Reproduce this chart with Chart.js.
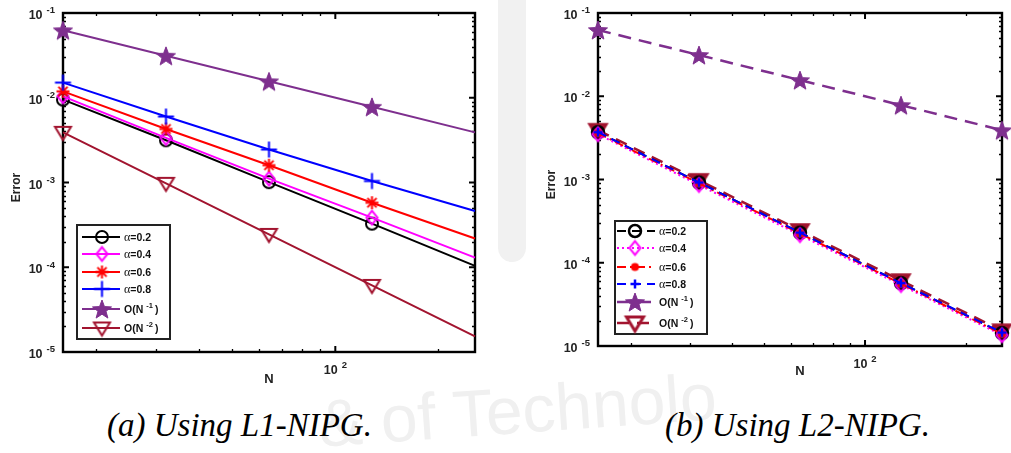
<!DOCTYPE html>
<html>
<head>
<meta charset="utf-8">
<script src="https://cdn.jsdelivr.net/npm/chart.js@4.4.0/dist/chart.umd.min.js"></script>
<style>
  body { margin: 0; background: #fff; width: 1011px; height: 453px; overflow: hidden; position: relative; }
  canvas { position: absolute; top: 0; }
  #plotA { left: 0; }
  #plotB { left: 505px; }
  .band { position: absolute; left: 498px; top: 0; width: 28px; height: 262px; background: #f1f1f1; border-radius: 0 0 14px 14px; }
  .wm { position: absolute; left: 318px; top: 372px; font: 66px "Liberation Sans", sans-serif; color: #f0f0f0; transform: rotate(-4deg); white-space: nowrap; }
  .cap { position: absolute; top: 407px; font: italic 33px "Liberation Serif", serif; color: #000; white-space: nowrap; }
</style>
</head>
<body>
<div class="band"></div>
<div class="wm">&amp;  of Technolo</div>
<canvas id="plotA" width="505" height="400"></canvas>
<canvas id="plotB" width="506" height="400"></canvas>
<div class="cap" style="left:107px">(a) Using L1-NIPG.</div>
<div class="cap" style="left:665px">(b) Using L2-NIPG.</div>
<script>
// ---- data ----
const nValues = [16, 32, 64, 128, 256];
const seriesLabels = ['α=0.2', 'α=0.4', 'α=0.6', 'α=0.8', 'O(N^-1)', 'O(N^-2)'];
const yTickExps = [-1, -2, -3, -4, -5];

// (a) L1-NIPG
const l1Alpha02 = [0.0095, 0.00315, 0.00101, 0.000327, 0.000104];
const l1Alpha04 = [0.0104, 0.00336, 0.00111, 0.000385, 0.00013];
const l1Alpha06 = [0.0119, 0.00428, 0.0016, 0.000577, 0.000218];
const l1Alpha08 = [0.0151, 0.0060, 0.00245, 0.00104, 0.00046];
const l1RateN1 = [0.0625, 0.03125, 0.015625, 0.0078125, 0.00390625];
const l1RateN2 = [0.00390625, 0.00097656, 0.00024414, 0.000061035, 0.000015259];

// (b) L2-NIPG
const l2Alpha02 = [0.0037, 0.00092, 0.00023, 0.000057, 0.0000143];
const l2Alpha04 = [0.0035, 0.00086, 0.000215, 0.000054, 0.0000135];
const l2Alpha06 = [0.0036, 0.0009, 0.000225, 0.000056, 0.000014];
const l2Alpha08 = [0.0037, 0.00092, 0.00023, 0.000057, 0.0000145];
const l2RateN1 = [0.0625, 0.03125, 0.015625, 0.0078125, 0.00390625];
const l2RateN2 = [0.00390625, 0.00097656, 0.00024414, 0.000061035, 0.000015259];

const PURPLE = '#7E2F8E';
const DARKRED = '#A2142F';

// small canvases used as point styles (MATLAB-like markers)
function marker(kind, size, color, lw, filled) {
  const pad = Math.ceil(lw) + 2;
  const s = Math.ceil(size * 1.3) + pad * 2;
  const c = document.createElement('canvas');
  c.width = s; c.height = s;
  const g = c.getContext('2d');
  const m = s / 2, r = size / 2;
  g.strokeStyle = color; g.fillStyle = color; g.lineWidth = lw;
  g.beginPath();
  if (kind === 'circle' || kind === 'dot') {
    g.arc(m, m, r, 0, Math.PI * 2);
  } else if (kind === 'diamond') {
    g.moveTo(m, m - r * 1.25); g.lineTo(m + r, m); g.lineTo(m, m + r * 1.25); g.lineTo(m - r, m); g.closePath();
  } else if (kind === 'tridown') {
    g.moveTo(m - r, m - r * 0.7); g.lineTo(m + r, m - r * 0.7); g.lineTo(m, m + r * 0.95); g.closePath();
  } else if (kind === 'star') {
    for (let i = 0; i < 10; i++) {
      const rad = i % 2 ? r * 0.42 : r;
      const ang = -Math.PI / 2 + i * Math.PI / 5;
      const px = m + rad * Math.cos(ang), py = m + 1 + rad * Math.sin(ang);
      if (i) g.lineTo(px, py); else g.moveTo(px, py);
    }
    g.closePath();
  } else if (kind === 'plus') {
    g.moveTo(m - r, m); g.lineTo(m + r, m); g.moveTo(m, m - r); g.lineTo(m, m + r);
  } else if (kind === 'asterisk') {
    for (let i = 0; i < 4; i++) {
      const ang = i * Math.PI / 4;
      g.moveTo(m - r * Math.cos(ang), m - r * Math.sin(ang));
      g.lineTo(m + r * Math.cos(ang), m + r * Math.sin(ang));
    }
  }
  if (filled) g.fill();
  if (kind !== 'dot') { g.lineJoin = 'miter'; g.stroke(); }
  return c;
}

function pts(vals) { return nValues.map((n, i) => ({ x: n, y: vals[i] })); }

function ds(label, vals, color, pointImg, legendImg, dash, order, lw, radii) {
  return {
    label, data: pts(vals), borderColor: color, backgroundColor: color,
    borderWidth: lw || 2, borderDash: dash || [], pointStyle: pointImg,
    pointRadius: radii || 4,
    legendImg: legendImg || pointImg, order, clip: false, tension: 0
  };
}

// text with "10^e" style superscript, bold Helvetica-like
function supText(ctx, base, exp, x, y, align, bSize, eSize) {
  ctx.font = 'bold ' + bSize + 'px "Liberation Sans", Arial, sans-serif';
  const bw = ctx.measureText(base).width;
  ctx.font = 'bold ' + eSize + 'px "Liberation Sans", Arial, sans-serif';
  const ew = ctx.measureText(exp).width;
  const gap = 4;
  const total = bw + gap + ew;
  let x0 = align === 'right' ? x - total : align === 'center' ? x - total / 2 : x;
  ctx.textAlign = 'left'; ctx.textBaseline = 'alphabetic';
  ctx.font = 'bold ' + bSize + 'px "Liberation Sans", Arial, sans-serif';
  ctx.fillText(base, x0, y);
  ctx.font = 'bold ' + eSize + 'px "Liberation Sans", Arial, sans-serif';
  ctx.fillText(exp, x0 + bw + gap, y - bSize * 0.45);
}

const matlabFrame = {
  id: 'matlabFrame',
  beforeDatasetsDraw(chart, args, opts) {
    const { ctx, chartArea: a, scales: { x, y } } = chart;
    ctx.save();
    ctx.strokeStyle = '#000';
    // minor ticks
    ctx.lineWidth = 1.3;
    ctx.beginPath();
    for (let e = -5; e <= -2; e++) {
      for (let k = 2; k <= 9; k++) {
        const py = Math.round(y.getPixelForValue(k * Math.pow(10, e))) + 0.5;
        ctx.moveTo(a.left, py); ctx.lineTo(a.left + 3, py);
        ctx.moveTo(a.right, py); ctx.lineTo(a.right - 3, py);
      }
    }
    [20, 30, 40, 50, 60, 70, 80, 90, 200].forEach(v => {
      const px = Math.round(x.getPixelForValue(v)) + 0.5;
      ctx.moveTo(px, a.bottom); ctx.lineTo(px, a.bottom - 3);
      ctx.moveTo(px, a.top); ctx.lineTo(px, a.top + 3);
    });
    ctx.stroke();
    // major ticks
    ctx.lineWidth = 2;
    ctx.beginPath();
    yTickExps.forEach(e => {
      const py = y.getPixelForValue(Math.pow(10, e));
      ctx.moveTo(a.left, py); ctx.lineTo(a.left + 6, py);
      ctx.moveTo(a.right, py); ctx.lineTo(a.right - 6, py);
    });
    const p100 = x.getPixelForValue(100);
    ctx.moveTo(p100, a.bottom); ctx.lineTo(p100, a.bottom - 6);
    ctx.moveTo(p100, a.top); ctx.lineTo(p100, a.top + 6);
    ctx.stroke();
    // box
    ctx.lineWidth = 2.4;
    ctx.strokeRect(a.left, a.top, a.right - a.left, a.bottom - a.top);

    // tick labels
    ctx.fillStyle = '#222';
    yTickExps.forEach(e => {
      const py = y.getPixelForValue(Math.pow(10, e));
      supText(ctx, '10', String(e), a.left - 8, py + 6, 'right', 12.5, 9.5);
    });
    supText(ctx, '10', '2', p100, a.bottom + 22, 'center', 12.5, 9.5);

    // axis titles
    ctx.font = 'bold 13px "Liberation Sans", Arial, sans-serif';
    ctx.textAlign = 'center'; ctx.textBaseline = 'alphabetic';
    ctx.fillText('N', (a.left + a.right) / 2, a.bottom + opts.nGap);
    ctx.save();
    ctx.translate(a.left - 43, (a.top + a.bottom) / 2 + 5);
    ctx.rotate(-Math.PI / 2);
    ctx.font = 'bold 12px "Liberation Sans", Arial, sans-serif';
    ctx.fillText('Error', 0, 0);
    ctx.restore();
    ctx.restore();
  },
  afterDatasetsDraw(chart, args, opts) {
    const { ctx } = chart;
    const L = opts.legend;
    ctx.save();
    ctx.fillStyle = '#fff';
    ctx.fillRect(L.x, L.y, L.w, L.h);
    ctx.strokeStyle = '#222'; ctx.lineWidth = 2;
    ctx.strokeRect(L.x, L.y, L.w, L.h);
    chart.data.datasets.forEach((d, i) => {
      const ry = L.rows[i];
      ctx.strokeStyle = d.borderColor; ctx.lineWidth = d.borderWidth;
      ctx.setLineDash(d.borderDash);
      ctx.beginPath();
      ctx.moveTo(L.x + L.lineFrom, ry); ctx.lineTo(L.x + L.lineTo, ry);
      ctx.stroke();
      ctx.setLineDash([]);
      const img = d.legendImg;
      ctx.drawImage(img, L.x + L.markX - img.width / 2, ry - img.height / 2);
      // label text
      ctx.fillStyle = '#111';
      ctx.textBaseline = 'alphabetic'; ctx.textAlign = 'left';
      const tx = L.x + L.textX, ty = ry + 4;
      const lab = d.label;
      if (lab.startsWith('α')) {
        ctx.font = '12px "Liberation Serif", serif';
        ctx.fillText('α', tx, ty);
        const aw = ctx.measureText('α').width;
        ctx.font = 'bold 10.5px "Liberation Sans", Arial, sans-serif';
        ctx.fillText(lab.slice(1), tx + aw, ty);
      } else {
        const exp = lab.slice(lab.indexOf('^') + 1, lab.indexOf(')'));
        ctx.font = 'bold 10.5px "Liberation Sans", Arial, sans-serif';
        ctx.fillText('O(N', tx, ty);
        let w = ctx.measureText('O(N').width + 3;
        ctx.font = 'bold 7.5px "Liberation Sans", Arial, sans-serif';
        ctx.fillText(exp, tx + w, ty - 5);
        w += ctx.measureText(exp).width + 2;
        ctx.font = 'bold 10.5px "Liberation Sans", Arial, sans-serif';
        ctx.fillText(')', tx + w, ty);
      }
    });
    ctx.restore();
  }
};

function makeChart(id, datasets, pad, frameOpts) {
  return new Chart(document.getElementById(id), {
    type: 'line',
    data: { datasets },
    options: {
      responsive: false,
      animation: false,
      events: [],
      layout: { padding: pad },
      plugins: { legend: { display: false }, tooltip: { enabled: false }, matlabFrame: frameOpts },
      scales: {
        x: { type: 'logarithmic', min: 16, max: 256, display: false },
        y: { type: 'logarithmic', min: 1e-5, max: 1e-1, display: false }
      }
    },
    plugins: [matlabFrame]
  });
}

// (a) solid lines, later series on top, no marker on the last point
const noLast = [4, 4, 4, 4, 0];
const datasetsA = [
  ds(seriesLabels[0], l1Alpha02, '#000000', marker('circle', 12, '#000000', 2), null, [], 6, 2, noLast),
  ds(seriesLabels[1], l1Alpha04, '#FF00FF', marker('diamond', 11, '#FF00FF', 2), null, [], 5, 2, noLast),
  ds(seriesLabels[2], l1Alpha06, '#FF0000', marker('asterisk', 13, '#FF0000', 2), null, [], 4, 2, noLast),
  ds(seriesLabels[3], l1Alpha08, '#0000FF', marker('plus', 16, '#0000FF', 2), null, [], 3, 2, noLast),
  ds(seriesLabels[4], l1RateN1, PURPLE, marker('star', 20, PURPLE, 1, true), null, [], 2, 2, noLast),
  ds(seriesLabels[5], l1RateN2, DARKRED, marker('tridown', 16, DARKRED, 2), null, [], 1, 2, noLast)
];
makeChart('plotA', datasetsA, { left: 63, right: 30, top: 13, bottom: 48 }, {
  nGap: 31,
  legend: { x: 77, y: 225, w: 93, h: 114, rows: [237, 254, 272, 289, 309, 328],
            lineFrom: 5, lineTo: 43, markX: 25, textX: 47 }
});

// (b) dashed / dotted lines, nearly coincident series
const datasetsB = [
  ds(seriesLabels[0], l2Alpha02, '#000000', marker('circle', 12, '#000000', 2.5), null, [9, 6], 5),
  ds(seriesLabels[1], l2Alpha04, '#FF00FF', marker('diamond', 11, '#FF00FF', 2), null, [2, 3], 4),
  ds(seriesLabels[2], l2Alpha06, '#FF0000', marker('dot', 8, '#FF0000', 1, true), null, [9, 4, 2, 4], 3),
  ds(seriesLabels[3], l2Alpha08, '#0000FF', marker('plus', 9, '#0000FF', 2.5), null, [9, 6], 2),
  ds(seriesLabels[4], l2RateN1, PURPLE, marker('star', 20, PURPLE, 1, true), null, [13, 8], 1, 2.5),
  ds(seriesLabels[5], l2RateN2, DARKRED, marker('tridown', 17, DARKRED, 2.5, true), marker('tridown', 17, DARKRED, 3), [12, 8], 6, 2.5)
];
makeChart('plotB', datasetsB, { left: 93, right: 9, top: 13, bottom: 54 }, {
  nGap: 29,
  legend: { x: 110, y: 221, w: 92, h: 113, rows: [231, 248, 267, 284, 302, 323],
            lineFrom: 2, lineTo: 40, markX: 20, textX: 44 }
});
</script>
</body>
</html>
